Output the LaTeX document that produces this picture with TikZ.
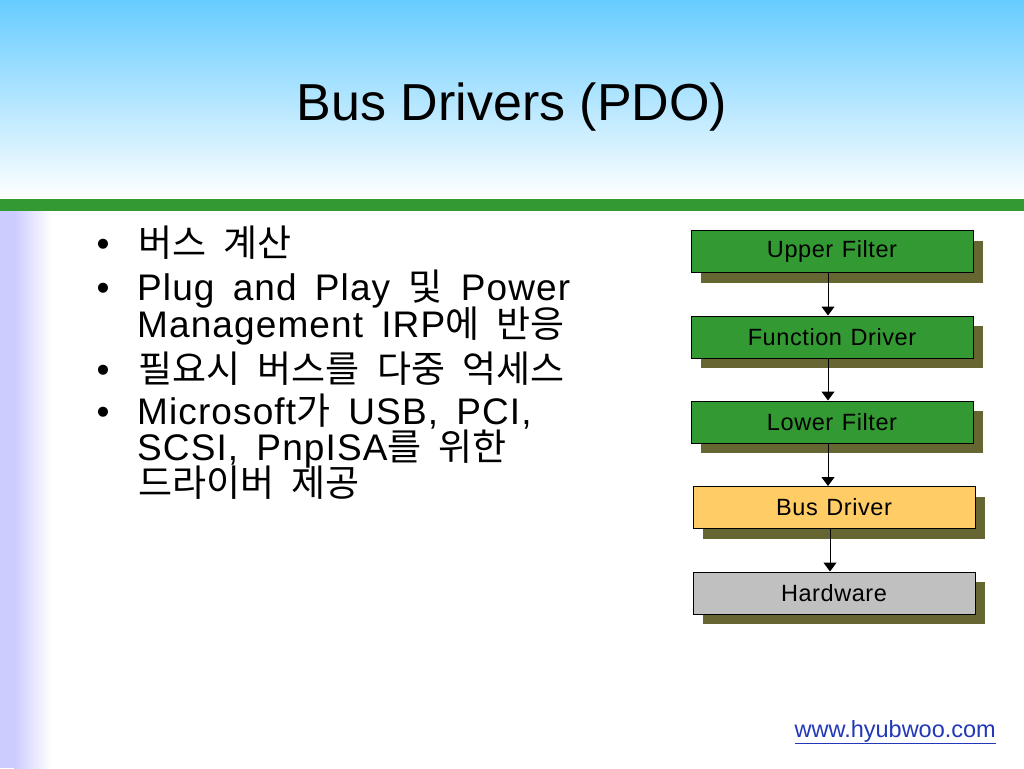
\documentclass[tikz,border=0pt]{standalone}
\usepackage{fontspec}
\setmainfont{Liberation Sans}
\newfontfamily\lat[LetterSpace=3,WordSpace=1.6]{Liberation Sans}
\newfontfamily\boxlat[LetterSpace=2.5,WordSpace=1.2]{Liberation Sans}
\newfontfamily\kr[WordSpace=2.1]{Noto Sans CJK KR}
\usetikzlibrary{arrows.meta,shadows}
\definecolor{skyc}{HTML}{66CCFF}
\definecolor{barc}{HTML}{339933}
\definecolor{lavc}{HTML}{CCCCFF}
\definecolor{boxg}{HTML}{339933}
\definecolor{boxy}{HTML}{FFCC66}
\definecolor{boxh}{HTML}{C0C0C0}
\definecolor{shadc}{HTML}{666633}
\definecolor{linkc}{HTML}{2238B8}
\begin{document}
\begin{tikzpicture}[x=1pt,y=-1pt,
  layer/.style={draw=black, line width=1pt, minimum width=282pt, minimum height=42pt, inner sep=0pt,
    font=\fontsize{23.5}{23.5}\selectfont\boxlat, text=black,
    drop shadow={shadow xshift=10pt,shadow yshift=-10pt,fill=shadc,opacity=1}},
  flow/.style={-{Triangle[width=13pt,length=9pt]}, line width=1pt},
  bodytext/.style={anchor=base west, inner sep=0pt, font=\fontsize{37}{37}\selectfont\lat},
  dot/.style={anchor=base west, inner sep=0pt, font=\fontsize{37}{37}\selectfont}]
\useasboundingbox (0,0) rectangle (1024,768);
\fill[white] (0,0) rectangle (1024,768);
\shade[top color=skyc, bottom color=white] (0,0) rectangle (1024,199);
\fill[barc] (0,199) rectangle (1024,211);
\fill[lavc] (0,211) rectangle (14,768);
\shade[left color=lavc, right color=white] (14,211) rectangle (52,768);

\node[anchor=base, inner sep=0pt, font=\fontsize{52}{52}\selectfont] (title) at (512,120) {Bus Drivers (PDO)};

\node[dot] (b1) at (96.5,256) {•};
\node[dot] (b2) at (96.5,300) {•};
\node[dot] (b3) at (96.5,382) {•};
\node[dot] (b4) at (96.5,424) {•};

\node[bodytext] (t1) at (138,256) {\kr 버스 계산};
\node[bodytext] (t2) at (137,300) {Plug and Play {\kr 및} Power};
\node[bodytext] (t2b) at (137,337) {Management IRP{\kr 에 반응}};
\node[bodytext] (t3) at (138,382) {\kr 필요시 버스를 다중 억세스};
\node[bodytext] (t4) at (137,424) {Microsoft{\kr 가} USB, PCI,};
\node[bodytext] (t4b) at (137,460) {SCSI, PnpISA{\kr 를 위한}};
\node[bodytext] (t4c) at (138,496) {\kr 드라이버 제공};

\node[layer, fill=boxg] (uf) at (832,251.5) {Upper Filter};
\node[layer, fill=boxg] (fd) at (832,337) {Function Driver};
\node[layer, fill=boxg] (lf) at (832,422) {Lower Filter};
\node[layer, fill=boxy] (bd) at (834,507.5) {Bus Driver};
\node[layer, fill=boxh] (hw) at (834,593) {Hardware};

\draw[flow] ([xshift=-4pt]uf.south) -- ([xshift=-4pt]fd.north);
\draw[flow] ([xshift=-4pt]fd.south) -- ([xshift=-4pt]lf.north);
\draw[flow] ([xshift=-4pt]lf.south) -- ([xshift=-6pt]bd.north);
\draw[flow] ([xshift=-4pt]bd.south) -- ([xshift=-4pt]hw.north);

\node[anchor=base east, inner sep=0pt, text=linkc, font=\fontsize{23.5}{23.5}\selectfont] (web) at (996,737) {\underline{www.hyubwoo.com}};
\end{tikzpicture}
\end{document}
